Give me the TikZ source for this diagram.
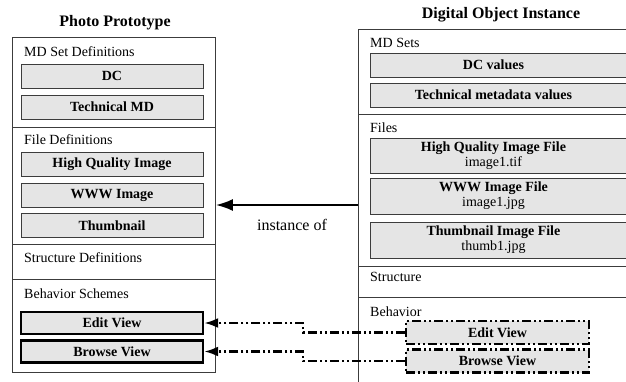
\documentclass[tikz,border=0pt]{standalone}
\usepackage{fontspec}
\setmainfont{Liberation Serif}
\usetikzlibrary{positioning, arrows.meta}
\definecolor{boxgray}{RGB}{229,229,229}
\definecolor{edgegray}{RGB}{60,60,60}

\begin{document}
\begin{tikzpicture}[x=1pt, y=-1pt]
                % Define the styles for frames, boxes and links
                \tikzstyle{frame}=[draw=edgegray, line width=0.9pt]
                \tikzstyle{title}=[font=\fontsize{16}{18}\selectfont\bfseries]
                \tikzstyle{section}=[anchor=west, inner sep=0pt, font=\fontsize{14}{16}\selectfont]
                \tikzstyle{defbox}=[fill=boxgray, draw=edgegray, line width=0.9pt, minimum width=182pt, minimum height=24pt, inner sep=0pt, font=\fontsize{14}{16}\selectfont\bfseries]
                \tikzstyle{valbox}=[defbox, minimum width=300pt, anchor=west]
                \tikzstyle{valtext}=[align=center, inner sep=0pt, xshift=-27pt, font=\fontsize{14}{15}\selectfont\bfseries]
                \tikzstyle{viewbox}=[defbox, draw=black, line width=2.4pt, minimum height=22pt]
                \tikzstyle{dashdotdot}=[dash pattern=on 9pt off 3pt on 2pt off 3pt on 2pt off 3pt]
                \tikzstyle{instview}=[defbox, draw=black, line width=2.2pt, dashdotdot, minimum width=183pt, minimum height=23pt]
                \tikzstyle{behavlink}=[line width=2.4pt, dashdotdot, -{Latex[length=14pt, width=10pt]}]
                
                % Fix the page and cut what runs off it
                \path[use as bounding box] (0,0) rectangle (626,381);
                \clip (0,0) rectangle (626,381);
                
                % Photo prototype on the left
                \node[title] (ptitle) at (115,23) {Photo Prototype};
                \node[frame, minimum width=203pt, minimum height=335pt, anchor=north west, inner sep=0pt] (proto) at (12,37) {};
                \foreach \y in {127,244,279}
                    \draw[frame] (12,\y) -- (215,\y);
                
                \node[section] (mdsetdef) at (24,52) {MD Set Definitions};
                \node[defbox] (dc) at (112,76) {DC};
                \node[defbox] (techmd) at (112,107) {Technical MD};
                
                \node[section] (filedef) at (24,140) {File Definitions};
                \node[defbox] (hqimg) at (112,164) {High Quality Image};
                \node[defbox] (wwwimg) at (112,195) {WWW Image};
                \node[defbox] (thumb) at (112,225.5) {Thumbnail};
                
                \node[section] (structdef) at (24,258) {Structure Definitions};
                
                \node[section] (behavdef) at (24,294) {Behavior Schemes};
                \node[viewbox] (editdef) at (112,323) {Edit View};
                \node[viewbox] (browsedef) at (112,351.5) {Browse View};
                
                % Digital object instance on the right
                \node[title] (ititle) at (501,15) {Digital Object Instance};
                \node[frame, minimum width=300pt, minimum height=380pt, anchor=north west, inner sep=0pt] (inst) at (358,29) {};
                \foreach \y in {114,266,297}
                    \draw[frame] (358,\y) -- (660,\y);
                
                \node[section] (mdsets) at (370,43) {MD Sets};
                \node[valbox, label={[valtext]center:DC values}] (dcval) at (370,65) {};
                \node[valbox, label={[valtext]center:Technical metadata values}] (techval) at (370,95) {};
                
                \node[section] (files) at (370,128) {Files};
                \node[valbox, minimum height=35pt, label={[valtext]center:{High Quality Image File\\ \mdseries image1.tif}}] (hqfile) at (370,155.5) {};
                \node[valbox, minimum height=36pt, label={[valtext]center:{WWW Image File\\ \mdseries image1.jpg}}] (wwwfile) at (370,196) {};
                \node[valbox, minimum height=36pt, label={[valtext]center:{Thumbnail Image File\\ \mdseries thumb1.jpg}}] (thumbfile) at (370,240) {};
                
                \node[section] (structure) at (370,277) {Structure};
                
                \node[section] (behavior) at (370,312) {Behavior};
                \node[instview] (editinst) at (497.5,332.5) {Edit View};
                \node[instview] (browseinst) at (497.5,361) {Browse View};
                
                % The instance-of arrow
                \coordinate (instof) at (358,205);
                \draw[line width=2pt, -{Latex[length=17pt, width=12pt]}] (instof) -- (proto.east |- instof);
                \node[font=\fontsize{16}{18}\selectfont] (instlabel) at (292,225) {instance of};
                
                % Link the behaviors back to their schemes
                \coordinate (jog) at (303,0);
                \draw[behavlink] (editinst.west) -- (editinst.west -| jog) -- (editdef.east -| jog) -- (editdef.east);
                \draw[behavlink] (browseinst.west) -- (browseinst.west -| jog) -- (browsedef.east -| jog) -- (browsedef.east);
            \end{tikzpicture}
\end{document}
